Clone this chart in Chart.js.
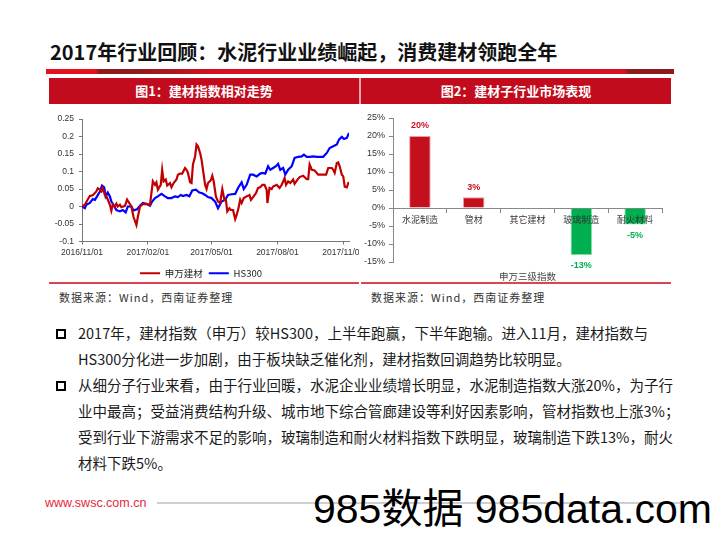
<!DOCTYPE html>
<html>
<head>
<meta charset="utf-8">
<script src="https://cdn.jsdelivr.net/npm/chart.js@4"></script>
<style>
  body { margin: 0; }
  #page { position: relative; width: 720px; height: 541px; background: #fff; overflow: hidden;
          font-family: "Noto Sans CJK SC", sans-serif; color: #1a1a1a; }
  .abs { position: absolute; }
  #title { left: 50px; top: 38px; font-size: 20px; font-weight: bold; line-height: 28px; white-space: nowrap; color: #111; }
  #band { left: 46px; top: 69px; width: 628px; height: 5px;
          background: linear-gradient(90deg, #E3121F 0px, #E3121F 50px, #8C1B1B 53px, #8C1B1B 85px, #D8131F 175px, #D8131F 578px, #8C1B1B 583px, #8C1B1B 628px); }
  .head { top: 78px; height: 26px; background: #C20C1D; color: #fff; font-size: 13px; font-weight: bold;
          line-height: 26px; text-align: center; }
  .panel { top: 104px; width: 310px; height: 180px; overflow: hidden; background: #fff; }
  .redline { top: 282px; height: 2px; background: #DC4455; }
  .src { top: 288px; font-size: 11px; letter-spacing: 1px; color: #333; line-height: 18px; white-space: nowrap; }
  #text { left: 78px; top: 320px; font-size: 14.5px; line-height: 26px; white-space: nowrap; color: #1a1a1a; }
  .sq { width: 6px; height: 6px; border: 2px solid #000; }
  #url { left: 45px; top: 494px; font-family: "Liberation Sans", Arial, sans-serif; font-size: 12.5px; color: #E5283A; line-height: 18px; }
  #footline { left: 157px; top: 502px; width: 523px; height: 2px; background: #CFCFCF; }
  #mark { left: 313px; top: 487px; font-family: "Liberation Sans", "Noto Sans CJK SC", sans-serif; font-size: 41px; line-height: 44px; color: #000; white-space: nowrap; }
</style>
</head>
<body>
<div id="page">
  <div id="title" class="abs">2017年行业回顾：水泥行业业绩崛起，消费建材领跑全年</div>
  <div id="band" class="abs"></div>
  <div class="abs head" style="left:49px;width:310px;">图1：建材指数相对走势</div>
  <div class="abs" style="left:359px;top:78px;width:2px;height:26px;background:#F2A7AF;"></div>
  <div class="abs head" style="left:361px;width:310px;">图2：建材子行业市场表现</div>

  <div class="abs panel" style="left:49px;"><canvas id="lineChart" width="340" height="185" style="width:340px;height:185px;"></canvas></div>
  <div class="abs panel" style="left:361px;"><canvas id="barChart" width="310" height="180" style="width:310px;height:180px;"></canvas></div>
  <div class="abs redline" style="left:49px;width:310px;"></div>
  <div class="abs redline" style="left:361px;width:310px;"></div>

  <div class="abs src" style="left:59px;">数据来源：Wind，西南证券整理</div>
  <div class="abs src" style="left:371px;">数据来源：Wind，西南证券整理</div>

  <div class="abs sq" style="left:56px;top:329px;"></div>
  <div class="abs sq" style="left:56px;top:381px;"></div>
  <div id="text" class="abs">
    2017年，建材指数（申万）较HS300，上半年跑赢，下半年跑输。进入11月，建材指数与<br>
    HS300分化进一步加剧，由于板块缺乏催化剂，建材指数回调趋势比较明显。<br>
    从细分子行业来看，由于行业回暖，水泥企业业绩增长明显，水泥制造指数大涨20%，为子行<br>
    业中最高；受益消费结构升级、城市地下综合管廊建设等利好因素影响，管材指数也上涨3%；<br>
    受到行业下游需求不足的影响，玻璃制造和耐火材料指数下跌明显，玻璃制造下跌13%，耐火<br>
    材料下跌5%。
  </div>

  <div id="url" class="abs">www.swsc.com.cn</div>
  <div id="footline" class="abs"></div>
  <div id="mark" class="abs">985数据 985data.com</div>
</div>

<script>
// 图1 数据（天数从 2016/11/01 起算）
const dateTickDays = [0, 92, 181, 273, 365];
const dateTickLabels = ["2016/11/01", "2017/02/01", "2017/05/01", "2017/08/01", "2017/11/01"];
const yTicks = [-0.1, -0.05, 0, 0.05, 0.1, 0.15, 0.2, 0.25];

const jcDays = [0,4,8,11,15,20,22,25,27,29,32,34,36,39,41,43,46,48,50,53,55,60,63,66,69,72,76,78,81,85,
  90,95,99,102,104,106,110,112,114,117,119,123,125,128,132,134,137,140,144,146,148,151,153,155,158,160,162,165,167,169,
  172,174,176,180,182,184,187,190,193,196,199,201,203,206,208,211,214,216,218,221,223,226,230,234,236,239,243,246,249,252,
  255,258,259,262,265,267,272,276,279,283,285,288,291,295,297,301,304,309,314,316,318,321,325,330,335,341,344,349,351,353,
  356,358,360,363,365,367,370,372,373];
const jcValues = [0,0.005,0.02,0.03,0.032,0.043,0.052,0.048,0.043,0.052,0.033,0.03,0.02,0.005,-0.012,0.005,0,0.008,0,0.005,
  -0.002,0.002,0.02,0.01,0,-0.03,-0.053,-0.03,0,0.007,0.007,0.005,0.072,0.062,0.069,0.048,0.062,0.105,0.072,0.077,
  0.06,0.067,0.055,0.067,0.077,0.091,0.094,0.094,0.11,0.105,0.096,0.069,0.067,0.12,0.143,0.177,0.172,0.153,0.134,0.105,
  0.062,0.05,0.067,0.075,0.088,0.072,0.029,0.014,0.01,0.05,0.019,0.019,-0.014,-0.005,-0.01,-0.01,-0.036,-0.024,-0.01,0.019,
  0.01,0.024,0.029,0.033,0.019,0.027,0.038,0.053,0.055,0.062,0.062,0.048,0.01,0.053,0.05,0.057,0.062,0.053,0.062,0.081,
  0.062,0.072,0.067,0.077,0.065,0.077,0.084,0.088,0.078,0.078,0.12,0.105,0.103,0.091,0.091,0.091,0.11,0.11,0.105,0.096,
  0.124,0.126,0.115,0.091,0.086,0.057,0.055,0.067,0.069];

const hsDays = [0,4,6,11,15,18,21,25,28,31,33,36,39,41,44,48,53,57,61,64,69,72,77,81,85,90,95,98,102,106,
  111,116,120,125,130,134,138,141,146,150,154,159,164,168,172,176,181,186,190,195,200,204,209,214,218,223,226,230,235,239,
  244,249,252,256,260,263,267,271,274,277,281,284,288,293,297,302,307,310,314,318,323,328,332,337,342,346,351,356,359,363,
  366,370,373];
const hsValues = [0,-0.005,0.005,0.01,0.021,0.019,0.029,0.043,0.06,0.055,0.029,0.04,0.029,0.014,0.005,-0.01,-0.014,-0.01,-0.017,0,
  0,-0.011,-0.008,0.002,0.01,0.008,0.002,0.014,0.024,0.029,0.036,0.029,0.024,0.024,0.029,0.027,0.033,0.03,0.033,0.029,
  0.046,0.048,0.04,0.038,0.033,0.027,0.024,0.014,-0.005,0.014,0.019,0.033,0.035,0.036,0.053,0.069,0.05,0.062,0.091,0.091,
  0.086,0.094,0.096,0.094,0.115,0.105,0.11,0.115,0.122,0.105,0.11,0.091,0.105,0.115,0.139,0.142,0.143,0.148,0.142,0.142,
  0.143,0.142,0.142,0.142,0.153,0.167,0.172,0.177,0.191,0.199,0.193,0.196,0.21];

// 图2 数据
const subIndustries = ["水泥制造", "管材", "其它建材", "玻璃制造", "耐火材料"];
const subReturns = [20, 3, -0.3, -13.05, -4.6];
const pctTicks = [-15, -10, -5, 0, 5, 10, 15, 20, 25];

const toPoints = (xs, ys) => xs.map((x, i) => ({ x: x, y: ys[i] }));

new Chart(document.getElementById("lineChart"), {
  type: "line",
  data: {
    datasets: [
      { label: "申万建材", data: toPoints(jcDays, jcValues), borderColor: "#C00000", backgroundColor: "#C00000",
        borderWidth: 2.2, pointRadius: 0, tension: 0 },
      { label: "HS300", data: toPoints(hsDays, hsValues), borderColor: "#0000FF", backgroundColor: "#0000FF",
        borderWidth: 2.2, pointRadius: 0, tension: 0 }
    ]
  },
  options: {
    responsive: false,
    animation: false,
    layout: { padding: { left: 4, right: 40, top: 15, bottom: 1 } },
    plugins: {
      tooltip: { enabled: false },
      legend: {
        position: "bottom",
        labels: { usePointStyle: true, pointStyle: "line", pointStyleWidth: 20, padding: 6,
                  color: "#222", font: { size: 9.5, family: "Noto Sans CJK SC" } }
      }
    },
    scales: {
      x: {
        type: "linear", min: 0, max: 373,
        afterBuildTicks: s => { s.ticks = dateTickDays.map(v => ({ value: v })); },
        afterFit: s => { s.height = 21; },
        ticks: { autoSkip: false, maxRotation: 0, padding: 3, color: "#333",
                 font: { size: 8.5, family: "Liberation Sans" },
                 callback: (v, i) => dateTickLabels[i] },
        grid: { drawOnChartArea: false, tickLength: 3, color: "#777" },
        border: { color: "#777" }
      },
      y: {
        min: -0.1, max: 0.25,
        afterBuildTicks: s => { s.ticks = yTicks.map(v => ({ value: v })); },
        afterFit: s => { s.width = 29; },
        ticks: { padding: 5, color: "#333", font: { size: 8.5, family: "Liberation Sans" },
                 callback: (v, i) => String(yTicks[i]) },
        grid: { drawOnChartArea: false, tickLength: 3, color: "#777" },
        border: { color: "#777" }
      }
    }
  }
});

const barLabels = {
  id: "barLabels",
  afterDatasetsDraw(chart) {
    const ctx = chart.ctx;
    const meta = chart.getDatasetMeta(0);
    ctx.save();
    ctx.font = "bold 9px 'Liberation Sans'";
    ctx.textAlign = "center";
    ctx.textBaseline = "middle";
    meta.data.forEach((bar, i) => {
      const v = subReturns[i];
      if (Math.abs(v) < 1) return;
      ctx.fillStyle = v >= 0 ? "#C8101E" : "#00B050";
      ctx.fillText(Math.round(v) + "%", bar.x, v >= 0 ? bar.y - 10 : bar.y + 11);
    });
    ctx.restore();
  }
};

new Chart(document.getElementById("barChart"), {
  type: "bar",
  data: {
    labels: subIndustries,
    datasets: [{
      data: subReturns,
      backgroundColor: subReturns.map(v => v >= 0 ? "#C4101C" : "#00B050"),
      borderColor: subReturns.map(v => v >= 0 ? "#EE9A9F" : "#86DBAA"),
      borderWidth: 1,
      categoryPercentage: 1,
      barPercentage: 0.4
    }]
  },
  plugins: [barLabels],
  options: {
    responsive: false,
    animation: false,
    layout: { padding: { left: 2, right: 9, top: 14, bottom: 0 } },
    plugins: {
      legend: { display: false },
      tooltip: { enabled: false }
    },
    scales: {
      x: {
        position: { y: 0 },
        ticks: { z: 1, padding: 2, color: "#333", font: { size: 9, family: "Noto Sans CJK SC" } },
        grid: { drawOnChartArea: false, tickLength: 4, color: "#888" },
        border: { color: "#888" }
      },
      xTitle: {
        type: "category",
        position: "bottom",
        labels: subIndustries,
        afterFit: s => { s.height = 22; },
        ticks: { display: false },
        grid: { display: false, drawTicks: false },
        border: { display: false },
        title: { display: true, text: "申万三级指数", color: "#444", padding: { top: 8, bottom: 2 },
                 font: { size: 9.5, family: "Noto Sans CJK SC" } }
      },
      y: {
        min: -15, max: 25,
        afterBuildTicks: s => { s.ticks = pctTicks.map(v => ({ value: v })); },
        afterFit: s => { s.width = 30; },
        ticks: { padding: 4, color: "#333", font: { size: 9, family: "Liberation Sans" },
                 callback: (v, i) => pctTicks[i] + "%" },
        grid: { drawOnChartArea: false, tickLength: 4, color: "#888" },
        border: { color: "#888" }
      }
    }
  }
});
</script>
</body>
</html>
